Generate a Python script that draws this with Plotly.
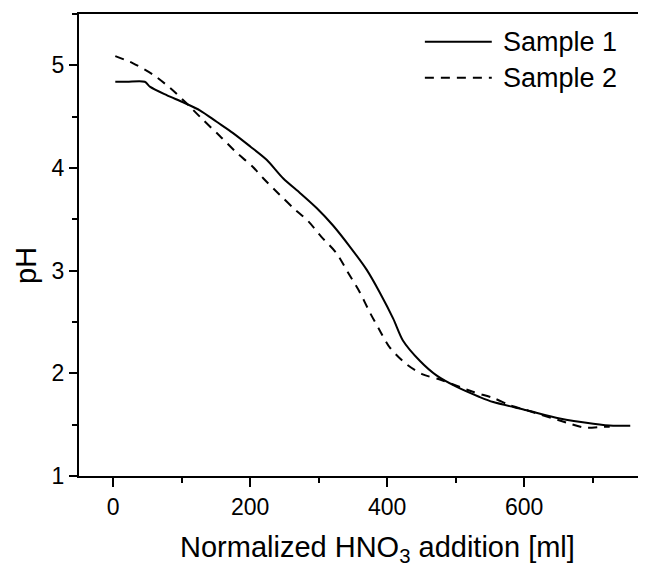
import plotly.graph_objects as go

# ── data ──────────────────────────────────────────────────────────────
s1_x = [3, 20, 46, 54, 78, 102, 127, 151, 175, 200, 224, 248, 273, 297, 321,
        346, 370, 389, 409, 423, 448, 472, 501, 535, 555, 604, 652, 701, 730, 755]
s1_ph = [4.84, 4.84, 4.84, 4.79, 4.71, 4.64, 4.56, 4.45, 4.34, 4.21, 4.08, 3.90,
         3.755, 3.61, 3.44, 3.23, 3.01, 2.79, 2.53, 2.32, 2.12, 1.98, 1.87, 1.77,
         1.72, 1.64, 1.56, 1.51, 1.49, 1.49]

s2_x = [3, 29, 58, 83, 107, 131, 156, 180, 204, 219, 243, 263, 285, 304, 326,
        343, 360, 375, 389, 404, 428, 452, 477, 525, 555, 579, 604, 662, 689, 715, 725]
s2_ph = [5.09, 5.02, 4.91, 4.78, 4.63, 4.47, 4.31, 4.15, 4.01, 3.90, 3.74, 3.61,
         3.48, 3.33, 3.17, 2.98, 2.79, 2.59, 2.42, 2.25, 2.09, 1.99, 1.94, 1.82,
         1.76, 1.69, 1.64, 1.52, 1.47, 1.48, 1.48]

names = ["Sample 1", "Sample 2"]
dashes = ["solid", "9px,7px"]

FONT = "Arial, Liberation Sans, sans-serif"

# the page body has an 8px margin, so the figure is drawn 8px smaller
# and its own margins are trimmed by the same amount
fig = go.Figure()
for xs, ys, dash in [(s1_x, s1_ph, dashes[0]), (s2_x, s2_ph, dashes[1])]:
    fig.add_trace(go.Scatter(
        x=xs, y=ys, mode="lines",
        line=dict(color="black", width=2, dash=dash, shape="spline", smoothing=0.8),
        showlegend=False,
    ))

axis_common = dict(
    showgrid=False, zeroline=False, showline=True, linecolor="black", linewidth=2,
    ticks="outside", tickcolor="black", tickwidth=2,
    tickfont=dict(family=FONT, size=23, color="black"),
)
fig.update_xaxes(range=[-50, 778], dtick=200, ticklen=9, mirror=True,
                 minor=dict(dtick=100, ticklen=5, ticks="outside",
                            tickcolor="black", tickwidth=2),
                 **axis_common)
fig.update_yaxes(range=[1, 5.5], dtick=1, ticklen=8, mirror=False,
                 minor=dict(dtick=0.5, ticklen=5, ticks="outside",
                            tickcolor="black", tickwidth=2),
                 **axis_common)

# hand-built legend, top right
leg_y = [0.940, 0.862]
for name, dash, y in zip(names, dashes, leg_y):
    fig.add_shape(type="line", xref="paper", yref="paper",
                  x0=0.610, x1=0.728, y0=y, y1=y,
                  line=dict(color="black", width=2, dash=dash))
    fig.add_annotation(text=name, xref="paper", yref="paper", x=0.745, y=y,
                       xanchor="left", yanchor="middle", showarrow=False,
                       font=dict(family=FONT, size=27, color="black"))

fig.add_annotation(text="Normalized HNO<sub>3</sub> addition [ml]",
                   xref="paper", yref="paper", x=0.5265, y=-0.114,
                   xanchor="center", yanchor="top", showarrow=False,
                   font=dict(family=FONT, size=29, color="black"))
fig.add_annotation(text="pH", xref="paper", yref="paper", x=-0.0935, y=0.4567,
                   xanchor="center", yanchor="middle", textangle=-90,
                   showarrow=False, font=dict(family=FONT, size=29, color="black"))

fig.update_layout(
    width=638, height=559,
    margin=dict(l=71, r=0, t=6, b=91),
    plot_bgcolor="white", paper_bgcolor="white",
)

fig.write_html("out.html")
